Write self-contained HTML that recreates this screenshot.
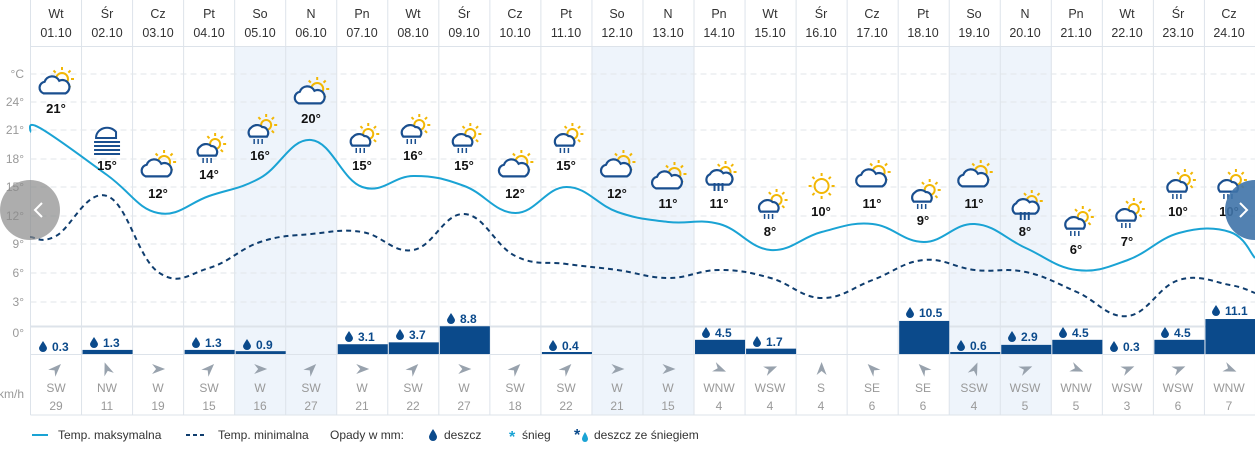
<!DOCTYPE html>
<html><head><meta charset="utf-8"><style>
html,body{margin:0;padding:0;background:#fff;width:1255px;height:450px;overflow:hidden;font-family:"Liberation Sans",sans-serif}
svg{display:block}
.h{font-size:12.5px;fill:#333;text-anchor:middle}
.ax{font-size:12px;fill:#999;text-anchor:end}
.t{font-size:13px;font-weight:bold;fill:#111;text-anchor:middle}
.p{font-size:12px;font-weight:bold;fill:#0b4a8b}
.w{font-size:12px;fill:#999;text-anchor:middle}
.lg{font-size:12px;fill:#333}
</style></head><body>
<svg id="s" width="1255" height="450" xmlns="http://www.w3.org/2000/svg">
<g id="bg"></g>
<g id="grid"></g>
<path id="mx" fill="none" stroke="#1aa3d4" stroke-width="2"/>
<path id="mn" fill="none" stroke="#0f3d6e" stroke-width="2" stroke-dasharray="5,4"/>
<g id="bars"></g>
<g id="icons"></g>
<g id="arrows"></g>
<text class="ax" x="24" y="78">°C</text>
<text class="ax" x="24" y="106">24°</text>
<text class="ax" x="24" y="134">21°</text>
<text class="ax" x="24" y="163">18°</text>
<text class="ax" x="24" y="191">15°</text>
<text class="ax" x="24" y="220">12°</text>
<text class="ax" x="24" y="248">9°</text>
<text class="ax" x="24" y="277">6°</text>
<text class="ax" x="24" y="306">3°</text>
<text class="ax" x="24" y="337">0°</text>
<text class="ax" x="24" y="398" style="text-anchor:end">km/h</text>
<g class="h">
<text x="56" y="18">Wt</text><text x="56" y="37">01.10</text>
<text x="107" y="18">Śr</text><text x="107" y="37">02.10</text>
<text x="158" y="18">Cz</text><text x="158" y="37">03.10</text>
<text x="209" y="18">Pt</text><text x="209" y="37">04.10</text>
<text x="260" y="18">So</text><text x="260" y="37">05.10</text>
<text x="311" y="18">N</text><text x="311" y="37">06.10</text>
<text x="362" y="18">Pn</text><text x="362" y="37">07.10</text>
<text x="413" y="18">Wt</text><text x="413" y="37">08.10</text>
<text x="464" y="18">Śr</text><text x="464" y="37">09.10</text>
<text x="515" y="18">Cz</text><text x="515" y="37">10.10</text>
<text x="566" y="18">Pt</text><text x="566" y="37">11.10</text>
<text x="617" y="18">So</text><text x="617" y="37">12.10</text>
<text x="668" y="18">N</text><text x="668" y="37">13.10</text>
<text x="719" y="18">Pn</text><text x="719" y="37">14.10</text>
<text x="770" y="18">Wt</text><text x="770" y="37">15.10</text>
<text x="821" y="18">Śr</text><text x="821" y="37">16.10</text>
<text x="872" y="18">Cz</text><text x="872" y="37">17.10</text>
<text x="923" y="18">Pt</text><text x="923" y="37">18.10</text>
<text x="974" y="18">So</text><text x="974" y="37">19.10</text>
<text x="1025" y="18">N</text><text x="1025" y="37">20.10</text>
<text x="1076" y="18">Pn</text><text x="1076" y="37">21.10</text>
<text x="1127" y="18">Wt</text><text x="1127" y="37">22.10</text>
<text x="1178" y="18">Śr</text><text x="1178" y="37">23.10</text>
<text x="1229" y="18">Cz</text><text x="1229" y="37">24.10</text>
</g>
<g class="t">
<text x="56" y="113">21°</text><text x="107" y="170">15°</text><text x="158" y="198">12°</text>
<text x="209" y="179">14°</text><text x="260" y="160">16°</text><text x="311" y="123">20°</text>
<text x="362" y="170">15°</text><text x="413" y="160">16°</text><text x="464" y="170">15°</text>
<text x="515" y="198">12°</text><text x="566" y="170">15°</text><text x="617" y="198">12°</text>
<text x="668" y="208">11°</text><text x="719" y="208">11°</text><text x="770" y="236">8°</text>
<text x="821" y="216">10°</text><text x="872" y="208">11°</text><text x="923" y="225">9°</text>
<text x="974" y="208">11°</text><text x="1025" y="236">8°</text><text x="1076" y="254">6°</text>
<text x="1127" y="246">7°</text><text x="1178" y="216">10°</text><text x="1229" y="216">10°</text>
</g>
<g class="p" id="pl">
<text x="52" y="351">0.3</text><text x="103" y="347">1.3</text><text x="205" y="347">1.3</text>
<text x="256" y="349">0.9</text><text x="358" y="341">3.1</text><text x="409" y="339">3.7</text>
<text x="460" y="323">8.8</text><text x="562" y="350">0.4</text><text x="715" y="337">4.5</text>
<text x="766" y="346">1.7</text><text x="919" y="317">10.5</text><text x="970" y="350">0.6</text>
<text x="1021" y="341">2.9</text><text x="1072" y="337">4.5</text><text x="1123" y="351">0.3</text>
<text x="1174" y="337">4.5</text><text x="1225" y="315">11.1</text>
</g>
<g class="w">
<text x="56" y="392">SW</text><text x="56" y="410">29</text>
<text x="107" y="392">NW</text><text x="107" y="410">11</text>
<text x="158" y="392">W</text><text x="158" y="410">19</text>
<text x="209" y="392">SW</text><text x="209" y="410">15</text>
<text x="260" y="392">W</text><text x="260" y="410">16</text>
<text x="311" y="392">SW</text><text x="311" y="410">27</text>
<text x="362" y="392">W</text><text x="362" y="410">21</text>
<text x="413" y="392">SW</text><text x="413" y="410">22</text>
<text x="464" y="392">W</text><text x="464" y="410">27</text>
<text x="515" y="392">SW</text><text x="515" y="410">18</text>
<text x="566" y="392">SW</text><text x="566" y="410">22</text>
<text x="617" y="392">W</text><text x="617" y="410">21</text>
<text x="668" y="392">W</text><text x="668" y="410">15</text>
<text x="719" y="392">WNW</text><text x="719" y="410">4</text>
<text x="770" y="392">WSW</text><text x="770" y="410">4</text>
<text x="821" y="392">S</text><text x="821" y="410">4</text>
<text x="872" y="392">SE</text><text x="872" y="410">6</text>
<text x="923" y="392">SE</text><text x="923" y="410">6</text>
<text x="974" y="392">SSW</text><text x="974" y="410">4</text>
<text x="1025" y="392">WSW</text><text x="1025" y="410">5</text>
<text x="1076" y="392">WNW</text><text x="1076" y="410">5</text>
<text x="1127" y="392">WSW</text><text x="1127" y="410">3</text>
<text x="1178" y="392">WSW</text><text x="1178" y="410">6</text>
<text x="1229" y="392">WNW</text><text x="1229" y="410">7</text>
</g>
<circle cx="30" cy="210" r="30" fill="#8a8a8a" opacity="0.7"/>
<path d="M42 203 L35 210 L42 217" stroke="#fff" stroke-width="2" fill="none"/>
<circle cx="1255" cy="210" r="30" fill="#3f73a8" opacity="0.9"/>
<path d="M1240 203 L1247 210 L1240 217" stroke="#fff" stroke-width="2" fill="none"/>
<line x1="32" y1="435" x2="48" y2="435" stroke="#1aa3d4" stroke-width="2"/>
<text class="lg" x="58" y="439">Temp. maksymalna</text>
<line x1="186" y1="435" x2="206" y2="435" stroke="#0f3d6e" stroke-width="2" stroke-dasharray="4,3"/>
<text class="lg" x="218" y="439">Temp. minimalna</text>
<text class="lg" x="330" y="439">Opady w mm:</text>
<path d="M433 429 Q429 435 429 437 A4 4 0 0 0 437 437 Q437 435 433 429Z" fill="#0b4a8b"/>
<text class="lg" x="444" y="439">deszcz</text>
<text x="509" y="442" style="font-size:16px;fill:#1aa3d4;font-weight:bold">*</text>
<text class="lg" x="522" y="439">śnieg</text>
<text x="574" y="440" style="font-size:16px;fill:#0b4a8b;font-weight:bold">*</text>
<path d="M585 432 Q582 437 582 439 A3 3 0 0 0 588 439 Q588 437 585 432Z" fill="#1aa3d4"/>
<text class="lg" x="594" y="439">deszcz ze śniegiem</text>
</svg>
<script>
var NS="http://www.w3.org/2000/svg";
function el(p,t,a){var e=document.createElementNS(NS,t);for(var k in a)e.setAttribute(k,a[k]);document.getElementById(p).appendChild(e);return e;}
var L=30.5,W=51.04;
function cx(i){return 56+W*i;}
[[4,6],[11,13],[18,20]].forEach(function(r){el("bg","rect",{x:L+W*r[0],y:47,width:W*2,height:368,fill:"#eef4fb"});});
for(var i=0;i<=24;i++){var x=L+W*i;el("grid","line",{x1:x,y1:0,x2:x,y2:415,stroke:"#dde3ea","stroke-width":1});}
el("grid","line",{x1:L,y1:46.5,x2:1255,y2:46.5,stroke:"#dde3ea"});
[74,102,130,159,187,216,244,273,302].forEach(function(y){el("grid","line",{x1:L,y1:y,x2:1255,y2:y,stroke:"#e2e6ea","stroke-dasharray":"6,4"});});
el("grid","line",{x1:L,y1:326.5,x2:1255,y2:326.5,stroke:"#dde3ea","stroke-width":2});
el("grid","line",{x1:L,y1:354.5,x2:1255,y2:354.5,stroke:"#dde3ea"});
el("grid","line",{x1:L,y1:415,x2:1255,y2:415,stroke:"#dde3ea"});
function smooth(pts){var d="M"+pts[0][0]+" "+pts[0][1];for(var i=0;i<pts.length-1;i++){var p0=pts[i-1]||pts[i],p1=pts[i],p2=pts[i+1],p3=pts[i+2]||p2;var t=0.2;
var c1x=p1[0]+(p2[0]-p0[0])*t,c1y=p1[1]+(p2[1]-p0[1])*t,c2x=p2[0]-(p3[0]-p1[0])*t,c2y=p2[1]-(p3[1]-p1[1])*t;d+=" C"+c1x+" "+c1y+" "+c2x+" "+c2y+" "+p2[0]+" "+p2[1];}return d;}
var mx=[130,175,213,196,178,140,187,176,186,213,187,212,222,224,250,232,224,242,224,248,270,260,233,232];
var mn=[236,196,272,268,242,234,232,250,214,256,264,270,278,270,278,298,280,260,270,272,292,316,280,285];
var a=[[30,132],[40,128]];mx.forEach(function(y,i){if(i>0)a.push([cx(i),y]);});a.push([1255,258]);
var b=[[30,237]];mn.forEach(function(y,i){b.push([cx(i),y]);});b.push([1255,293]);
document.getElementById("mx").setAttribute("d",smooth(a));
document.getElementById("mn").setAttribute("d",smooth(b));
var pr={1:1.3,3:1.3,4:0.9,6:3.1,7:3.7,8:8.8,10:0.4,13:4.5,14:1.7,17:10.5,18:0.6,19:2.9,20:4.5,22:4.5,23:11.1};
for(var k in pr){var h=Math.max(2,pr[k]*3.15);el("bars","rect",{x:L+W*k+1,y:354-h,width:W-1,height:h,fill:"#0b4a8b"});}
var pl=document.getElementById("pl").children;
for(var j=0;j<pl.length;j++){var tx=+pl[j].getAttribute("x"),ty=+pl[j].getAttribute("y");var dx=tx-9,dy=ty-10;
el("bars","path",{d:"M"+dx+" "+dy+" Q"+(dx-4)+" "+(dy+6)+" "+(dx-4)+" "+(dy+7)+" A4 4 0 0 0 "+(dx+4)+" "+(dy+7)+" Q"+(dx+4)+" "+(dy+6)+" "+dx+" "+dy+"Z",fill:"#0b4a8b"});}
var rot=[-45,-110,0,-45,0,-45,0,-45,0,-45,-45,0,0,22,-22,-90,-135,-135,-67,-22,22,-22,-22,22];
rot.forEach(function(r,i){var x=cx(i),y=369;el("arrows","path",{d:"M"+(x-6)+" "+(y-5)+" L"+(x+7)+" "+y+" L"+(x-6)+" "+(y+5)+" L"+(x-2)+" "+y+"Z",fill:"#98a2ad",transform:"rotate("+r+" "+x+" "+y+")"});});
var ic=[["pc",85],["fog",140],["pc",168],["rs",150],["rs",131],["pc",95],["rs",140],["rs",131],["rs",140],["pc",168],["rs",140],["pc",168],["pc",180],["r",178],["rs",206],["s",186],["pc",178],["rs",196],["pc",178],["r",207],["rs",223],["rs",215],["rs",186],["rs",186]];
var B="#1a4f8f",Y="#f2b705";
function sun(x,y,r){el("icons","circle",{cx:x,cy:y,r:r,fill:"none",stroke:Y,"stroke-width":2});for(var k=0;k<8;k++){var an=k*Math.PI/4;el("icons","line",{x1:x+Math.cos(an)*(r+3),y1:y+Math.sin(an)*(r+3),x2:x+Math.cos(an)*(r+6),y2:y+Math.sin(an)*(r+6),stroke:Y,"stroke-width":2});}}
function cloud(x,y,s){el("icons","path",{d:"M"+(x-10*s)+" "+(y+7*s)+" A6 6 0 0 1 "+(x-9*s)+" "+(y-4*s)+" A8 8 0 0 1 "+(x+5*s)+" "+(y-5*s)+" A6 6 0 0 1 "+(x+11*s)+" "+(y+7*s)+"Z",fill:"#fff",stroke:B,"stroke-width":2.2});}
ic.forEach(function(c,i){var x=cx(i),y=c[1],t=c[0];
if(t=="pc"){sun(x+6,y-6,6);cloud(x-2,y+1,1.05);}
else if(t=="rs"){sun(x+6,y-6,5);cloud(x-2,y,0.8);for(var k=-1;k<=1;k++)el("icons","line",{x1:x-2+k*4,y1:y+8,x2:x-2+k*4,y2:y+13,stroke:B,"stroke-width":1.5});}
else if(t=="r"){sun(x+6,y-6,5);cloud(x-1,y,0.95);for(var k=-1;k<=1;k++)el("icons","line",{x1:x-1+k*4,y1:y+5,x2:x-1+k*4,y2:y+13,stroke:B,"stroke-width":2});}
else if(t=="s"){sun(x,y,7);}
else if(t=="fog"){el("icons","path",{d:"M"+(x-11)+" "+(y-2)+" A11 10 0 0 1 "+(x+9)+" "+(y-8)+" L"+(x+9)+" "+(y-2)+"Z",fill:"#fff",stroke:B,"stroke-width":2});for(var k=0;k<4;k++)el("icons","line",{x1:x-13,y1:y+2+k*4,x2:x+13,y2:y+2+k*4,stroke:B,"stroke-width":2});}
});
</script>
</body></html>
